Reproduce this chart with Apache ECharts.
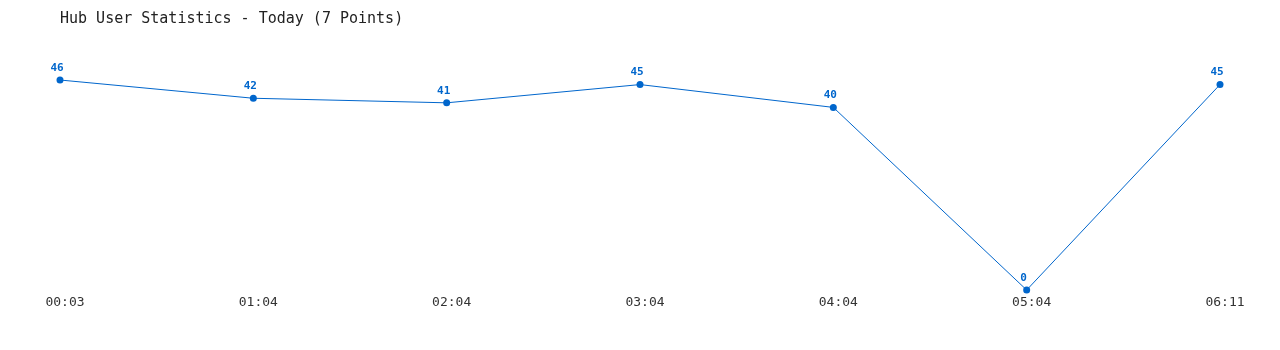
<!DOCTYPE html>
<html><head><meta charset="utf-8">
<script src="https://cdn.jsdelivr.net/npm/echarts@6/dist/echarts.min.js"></script>
<style>html,body{margin:0;padding:0;background:#fff}#c{width:1280px;height:350px}</style>
</head><body><div id="c"></div>
<script>
const categories = ["00:03","01:04","02:04","03:04","04:04","05:04","06:11"];
const users = [46,42,41,45,40,0,45];
const titleText = "Hub User Statistics - Today (7 Points)";

const chart = echarts.init(document.getElementById('c'), null, {renderer:'canvas'});
chart.setOption({
  animation:false,
  backgroundColor:'#ffffff',
  title:{text:titleText,left:55,top:7,textStyle:{fontFamily:'DejaVu Sans Mono',fontSize:15,fontWeight:'normal',color:'#222'}},
  grid:{left:60,right:60,top:80,bottom:60},
  xAxis:{type:'category',data:categories,boundaryGap:false,
    axisLine:{show:false},axisTick:{show:false},splitLine:{show:false},
    axisLabel:{fontFamily:'DejaVu Sans Mono',fontSize:13,color:'#333',margin:6,padding:[0,0,0,10]}},
  yAxis:{type:'value',min:0,max:46,show:false,splitLine:{show:false}},
  series:[{type:'line',data:users,symbol:'circle',symbolSize:7,
    lineStyle:{color:'#0066cc',width:1},itemStyle:{color:'#0066cc'},
    label:{show:true,position:'top',distance:3,offset:[-3,0],fontFamily:'DejaVu Sans Mono',fontSize:11,fontWeight:'bold',color:'#0066cc'}}]
});
</script></body></html>
